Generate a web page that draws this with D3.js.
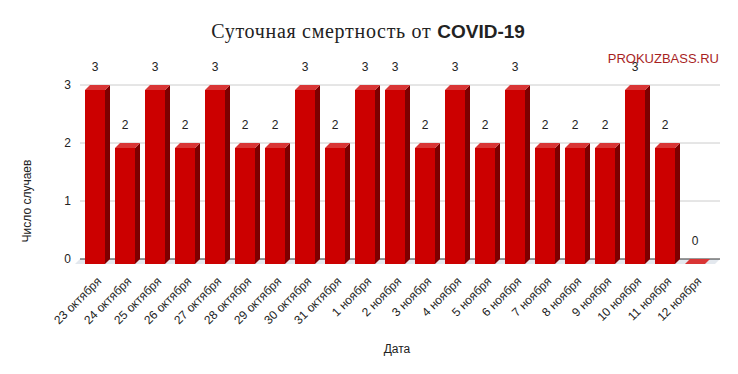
<!DOCTYPE html>
<html>
<head>
<meta charset="utf-8">
<script src="https://d3js.org/d3.v7.min.js"></script>
<style>
    body { margin: 0; background: #fff; }
    text { font-family: Arial, "Liberation Sans", sans-serif; fill: #222; }
</style>
</head>
<body>
<svg id="chart" width="738" height="374"></svg>
<script>
    const dates = ["23 октября", "24 октября", "25 октября", "26 октября", "27 октября", "28 октября",
        "29 октября", "30 октября", "31 октября", "1 ноября", "2 ноября", "3 ноября", "4 ноября",
        "5 ноября", "6 ноября", "7 ноября", "8 ноября", "9 ноября", "10 ноября", "11 ноября", "12 ноября"];
    const deaths = [3, 2, 3, 2, 3, 2, 2, 3, 2, 3, 3, 2, 3, 2, 3, 2, 2, 2, 3, 2, 0];
    const yTicks = [0, 1, 2, 3];

    const svg = d3.select("#chart");
    const depthX = 5, depthY = 5;

    // back plane scales
    const x = d3.scaleBand().domain(dates).range([80, 710]).paddingInner(1 / 3).paddingOuter(1 / 6);
    const y = d3.scaleLinear().domain([0, 3]).range([259, 85]);

    // title
    const title = svg.append("text")
        .attr("x", 368).attr("y", 38)
        .attr("text-anchor", "middle");
    title.append("tspan")
        .style("font-family", "'Liberation Serif', 'Times New Roman', serif")
        .attr("font-size", 20)
        .attr("letter-spacing", 0.7)
        .text("Суточная смертность от ");
    title.append("tspan")
        .attr("font-weight", "bold")
        .attr("font-size", 19)
        .text("COVID-19");

    svg.append("text")
        .attr("x", 719).attr("y", 63)
        .attr("text-anchor", "end")
        .attr("font-size", 13)
        .style("fill", "#a81f1f")
        .text("PROKUZBASS.RU");

    // floor
    svg.append("path")
        .attr("d", `M80,${y(0)} L720,${y(0)} L${720 - depthX},${y(0) + depthY} L${80 - depthX},${y(0) + depthY} Z`)
        .attr("fill", "#e3e8ee");

    // gridlines
    svg.selectAll("line.grid")
        .data(yTicks)
        .join("line")
        .attr("class", "grid")
        .attr("x1", 80).attr("x2", 720)
        .attr("y1", d => y(d)).attr("y2", d => y(d))
        .attr("stroke", d => d === 0 ? "#333" : "#ccc")
        .attr("stroke-width", 1);

    svg.selectAll("text.ytick")
        .data(yTicks)
        .join("text")
        .attr("class", "ytick")
        .attr("x", 71).attr("y", d => y(d))
        .attr("dy", "0.35em")
        .attr("text-anchor", "end")
        .attr("font-size", 12)
        .text(d => d);

    // bars
    const bars = svg.selectAll("g.bar")
        .data(dates.map((d, i) => ({date: d, value: deaths[i]})))
        .join("g")
        .attr("class", "bar");

    bars.each(function (d) {
        const g = d3.select(this);
        const x0 = x(d.date) + 5 - depthX;
        const x1 = x0 + x.bandwidth();
        const top = y(d.value) + depthY;
        const bottom = y(0) + depthY;
        // side
        g.append("path")
            .attr("d", `M${x1},${top} L${x1 + depthX},${top - depthY} L${x1 + depthX},${bottom - depthY} L${x1},${bottom} Z`)
            .attr("fill", "#7d0000");
        // front
        g.append("rect")
            .attr("x", x0).attr("y", top)
            .attr("width", x.bandwidth()).attr("height", bottom - top)
            .attr("fill", "#cc0000");
        // top
        g.append("path")
            .attr("d", `M${x0},${top} L${x0 + depthX},${top - depthY} L${x1 + depthX},${top - depthY} L${x1},${top} Z`)
            .attr("fill", "#d93535");
        // value label
        g.append("text")
            .attr("x", x0 + x.bandwidth() / 2)
            .attr("y", top - 23)
            .attr("dy", "0.35em")
            .attr("text-anchor", "middle")
            .attr("font-size", 12)
            .text(d.value);
    });

    // x labels
    svg.selectAll("text.xtick")
        .data(dates)
        .join("text")
        .attr("class", "xtick")
        .attr("transform", d => `translate(${x(d) + x.bandwidth() / 2 + 7},${y(0) + 23}) rotate(-45)`)
        .attr("text-anchor", "end")
        .attr("font-size", 12)
        .text(d => d);

    // axis titles
    svg.append("text")
        .attr("x", 397).attr("y", 353)
        .attr("text-anchor", "middle")
        .attr("font-size", 12)
        .text("Дата");

    svg.append("text")
        .attr("transform", "translate(31,201) rotate(-90)")
        .attr("text-anchor", "middle")
        .attr("font-size", 12)
        .text("Число случаев");
</script>
</body>
</html>
